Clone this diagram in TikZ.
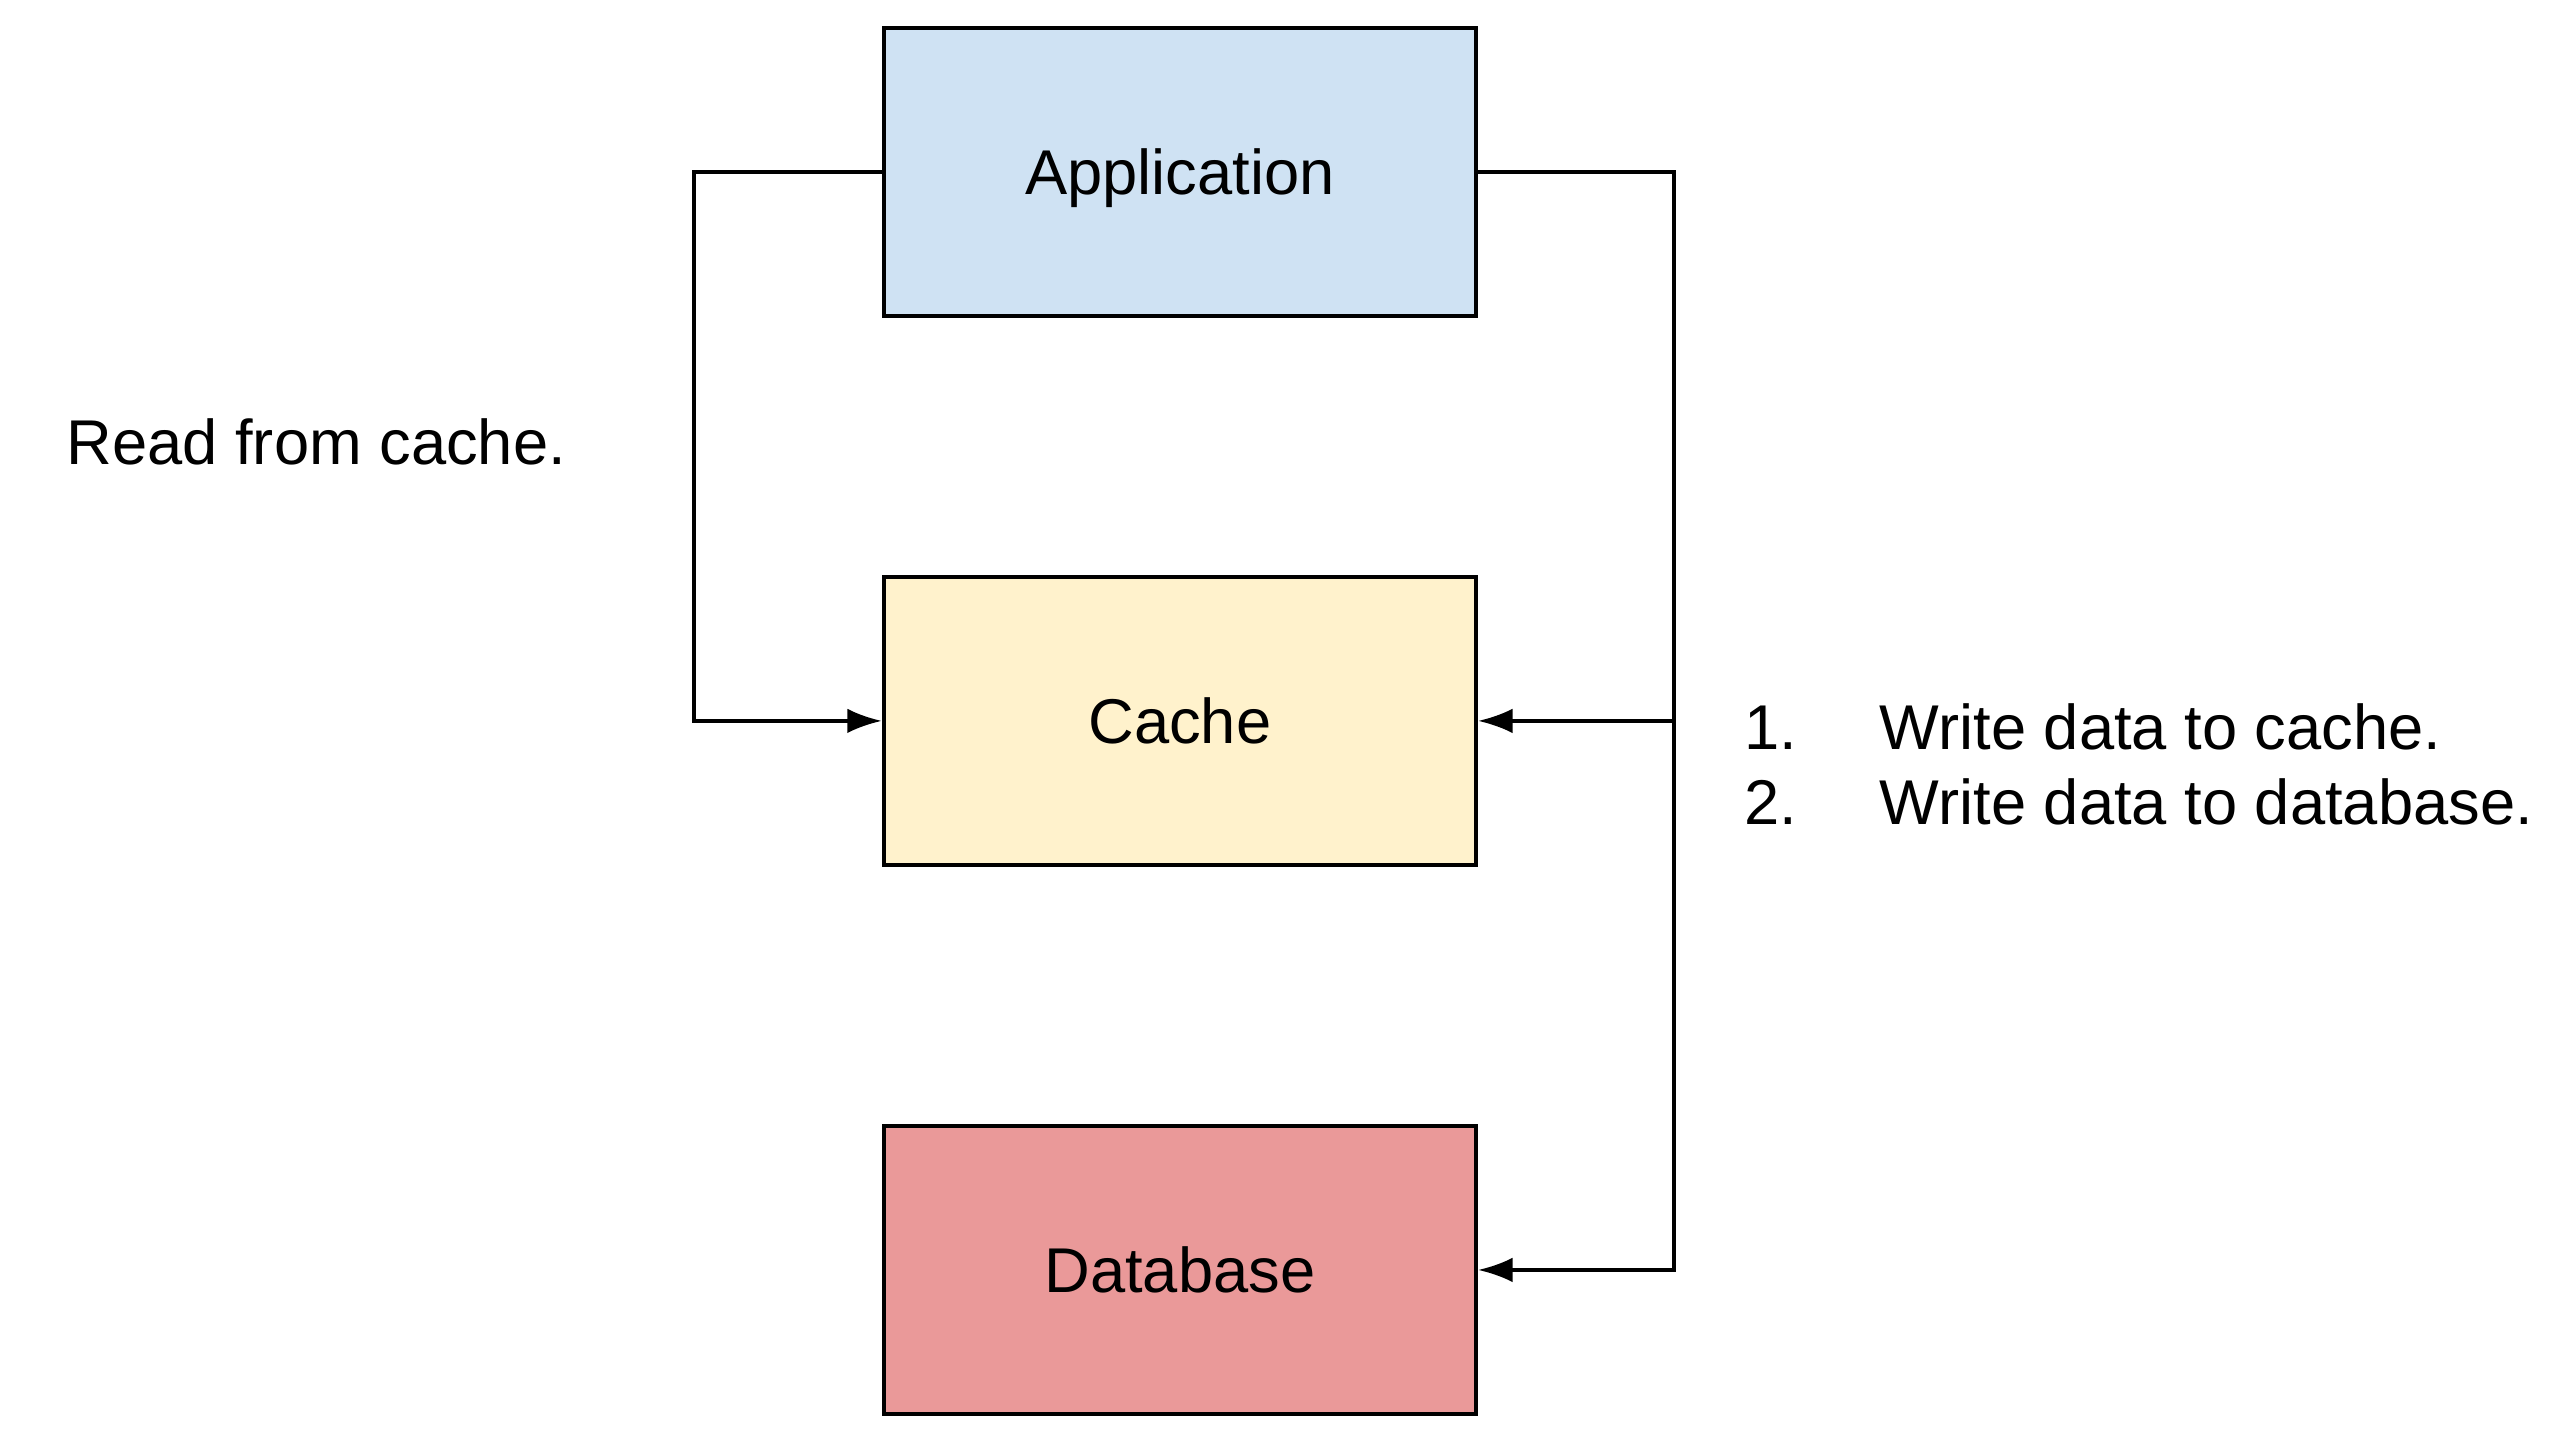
\documentclass[tikz,border=0pt]{standalone}
\usepackage{fontspec}
\setmainfont{Liberation Sans}
\usepackage{tikz}
\usetikzlibrary{arrows.meta}
\usetikzlibrary{positioning}
\definecolor{appblue}{HTML}{CFE2F3}
\definecolor{cacheyellow}{HTML}{FFF2CC}
\definecolor{dbred}{HTML}{EA9999}
\tikzset{mybox/.style={draw, line width=0.7pt, minimum width=3.62cm, minimum height=1.76cm, inner sep=0pt, text height=0.28cm, text depth=0cm}}
\tikzset{myboxApp/.style={mybox, fill=appblue}}
\tikzset{myboxCache/.style={mybox, fill=cacheyellow}}
\tikzset{myboxDb/.style={mybox, fill=dbred}}
\tikzset{myconn/.style={line width=0.6pt, -{Latex[length=0.21cm,width=0.15cm]}}}
\tikzset{mytext/.style={inner sep=0pt, anchor=base west}}

\begin{document}
\begin{tikzpicture}[font=\fontsize{11}{13}\selectfont]

\useasboundingbox (0,0) rectangle (15.68,-8.85);

\node[myboxApp] (app) at (7.21, -1.05) {Application};
\node[myboxCache] (cache) at (7.21, -4.405) {Cache};
\node[myboxDb] (db) at (7.21, -7.76) {Database};

\coordinate (lturn) at (4.24, -1.05);
\coordinate (rturn) at (10.23, -1.05);
\coordinate (rjoin) at (10.23, -4.405);

\draw[myconn] (app.west) -- (lturn) |- (cache.west);
\draw[myconn] (app.east) -- (rturn) |- (db.east);
\draw[myconn] (rjoin) -- (cache.east);

\node[mytext] (read) at (0.40, -2.84) {Read from cache.};

\node[mytext] (num1) at (10.65, -4.58) {1.};
\node[mytext] (step1) at (11.48, -4.58) {Write data to cache.};
\node[mytext] (num2) at (10.65, -5.04) {2.};
\node[mytext] (step2) at (11.48, -5.04) {Write data to database.};

\end{tikzpicture}
\end{document}
